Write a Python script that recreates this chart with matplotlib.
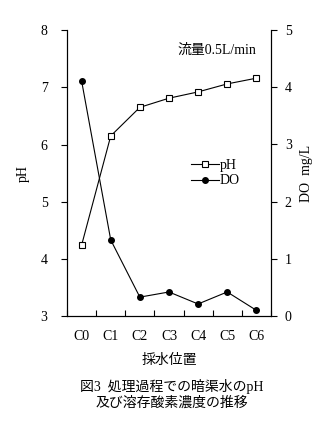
import numpy as np
import matplotlib.pyplot as plt

plt.rcParams['font.family'] = ['Liberation Serif', 'Noto Sans CJK JP']
plt.rcParams['font.size'] = 10

sites = ['C0', 'C1', 'C2', 'C3', 'C4', 'C5', 'C6']
ph = [4.24, 6.15, 6.65, 6.81, 6.92, 7.06, 7.16]
do = [4.11, 1.33, 0.33, 0.42, 0.21, 0.42, 0.10]

fig = plt.figure(figsize=(3.24, 4.25), dpi=100)
ax = fig.add_axes([0.207, 0.2565, 0.629, 0.6725])
ax2 = ax.twinx()

x = np.arange(len(sites))
l1, = ax.plot(x, ph, color='black', lw=0.8, marker='s', ms=4.5,
              mfc='white', mec='black', mew=0.8, label='pH')
l2, = ax2.plot(x, do, color='black', lw=0.8, marker='o', ms=4,
               mfc='black', mec='black', label='DO')

ax.set_xlim(-0.5, 6.5)
ax.set_ylim(3, 8)
ax2.set_ylim(0, 5)
ax.set_yticks([3, 4, 5, 6, 7, 8])
ax2.set_yticks([0, 1, 2, 3, 4, 5])

# category labels centred, tick marks on the boundaries
ax.set_xticks(x)
ax.set_xticklabels(sites)
ax.tick_params(axis='x', length=0, pad=10)
ax.set_xticks(np.arange(-0.5, 7, 1), minor=True)
ax.tick_params(axis='x', which='minor', direction='in', length=4, width=0.8)
ax.tick_params(axis='y', direction='out', length=4, width=0.8, pad=10)
ax2.tick_params(axis='y', direction='out', length=4, width=0.8, pad=6)

for a in (ax, ax2):
    a.spines['top'].set_visible(False)
    for s in a.spines.values():
        s.set_linewidth(0.8)

ax.set_ylabel('pH', labelpad=8)
ax2.set_ylabel('DO  mg/L', rotation=90, labelpad=6)
ax.set_xlabel('採水位置', labelpad=8)

ax.text(0.93, 0.93, '流量0.5L/min', transform=ax.transAxes,
        ha='right', va='center')
ax.legend([l1, l2], ['pH', 'DO'], loc='upper left',
          bbox_to_anchor=(0.58, 0.57), frameon=False,
          handlelength=2.0, handletextpad=0.1, labelspacing=0.2,
          borderaxespad=0)

fig.text(0.53, 0.072, '図3  処理過程での暗渠水のpH\n及び溶存酸素濃度の推移',
         ha='center', va='center', fontsize=10, linespacing=1.2)

fig.savefig('out.png', dpi=100)
